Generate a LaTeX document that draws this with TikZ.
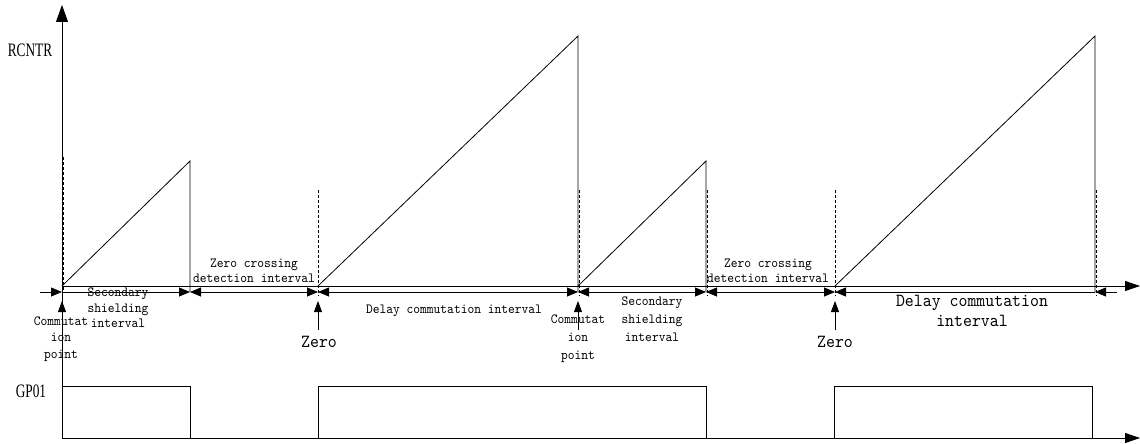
\documentclass[tikz,border=0pt]{standalone}
\usepackage{fontspec}
\usetikzlibrary{arrows.meta}
\newfontfamily\labserif[FakeStretch=0.7]{Liberation Serif}
\newfontfamily\labmono[FakeStretch=0.92]{lmmono10-regular.otf}
\begin{document}
\begin{tikzpicture}[x=1pt,y=-1pt,line width=0.8pt,
  axisup/.style={-{Triangle[length=17pt,width=12pt]}},
  axisright/.style={-{Triangle[length=15pt,width=10pt]}},
  dimboth/.style={{Triangle[length=11pt,width=9pt]}-{Triangle[length=11pt,width=9pt]}},
  dimend/.style={-{Triangle[length=11pt,width=9pt]}},
  dimstart/.style={{Triangle[length=11pt,width=9pt]}-},
  uparrow/.style={-{Triangle[length=11pt,width=8pt]}},
  guide/.style={dashed,line width=0.7pt,dash pattern=on 3pt off 2pt},
  axislabel/.style={font=\labserif\fontsize{19}{19}\selectfont,inner sep=0pt},
  small/.style={font=\labmono\fontsize{14}{15.5}\selectfont,align=center,inner sep=0pt},
  big/.style={font=\labmono\fontsize{18.5}{20}\selectfont,align=center,inner sep=0pt}]
\useasboundingbox (0,0) rectangle (1140,444);

% coordinates
\coordinate (O) at (62,438);
\coordinate (Ytop) at (62,5);
\coordinate (Xend) at (1140,438);
\coordinate (B0) at (62,286);
\coordinate (Bend) at (1140,286);
\coordinate (P1) at (190,161);
\coordinate (Q1) at (190,292);
\coordinate (Z1) at (318,286);
\coordinate (P2) at (578,36);
\coordinate (Q2) at (578,292);
\coordinate (Z2) at (578,286);
\coordinate (P3) at (706,161);
\coordinate (Q3) at (706,292);
\coordinate (Z3) at (835,286);
\coordinate (P4) at (1095,36);
\coordinate (Q4) at (1095,292);

% dimension-line points
\coordinate (D00) at (40,292);
\coordinate (D0) at (62,292);
\coordinate (D1) at (190,292);
\coordinate (D2) at (318,292);
\coordinate (D3) at (578,292);
\coordinate (D4) at (706,292);
\coordinate (D5) at (835,292);
\coordinate (D6) at (1095,292);
\coordinate (D66) at (1117,292);

% axes
\draw[axisup] (O) -- (Ytop);
\draw[axisright] (O) -- (Xend);
\draw[axisright] (B0) -- (Bend);

% ramps
\draw (B0) -- (P1) -- (Q1);
\draw (Z1) -- (P2) -- (Q2);
\draw (Z2) -- (P3) -- (Q3);
\draw (Z3) -- (P4) -- (Q4);

% dashed guides
\coordinate (G0a) at (63.5,157); \coordinate (G0b) at (63.5,292);
\coordinate (G1a) at (318,190);  \coordinate (G1b) at (318,296);
\coordinate (G2a) at (579,190);  \coordinate (G2b) at (579,296);
\coordinate (G3a) at (707,190);  \coordinate (G3b) at (707,296);
\coordinate (G4a) at (835,190);  \coordinate (G4b) at (835,296);
\coordinate (G5a) at (1096,190); \coordinate (G5b) at (1096,296);
\draw[guide] (G0a) -- (G0b);
\draw[guide] (G1a) -- (G1b);
\draw[guide] (G2a) -- (G2b);
\draw[guide] (G3a) -- (G3b);
\draw[guide] (G4a) -- (G4b);
\draw[guide] (G5a) -- (G5b);

% dimension arrows
\draw[dimend] (D00) -- (D0);
\draw[dimend] (D0) -- (D1);
\draw[dimboth] (D1) -- (D2);
\draw[dimboth] (D2) -- (D3);
\draw[dimboth] (D3) -- (D4);
\draw[dimboth] (D4) -- (D5);
\draw[dimstart] (D5) -- (D6);
\draw[dimend] (D66) -- (D6);

% up arrows
\coordinate (U0a) at (62,316); \coordinate (U0b) at (62,301);
\coordinate (U1a) at (318,330); \coordinate (U1b) at (318,301);
\coordinate (U2a) at (578,330); \coordinate (U2b) at (578,301);
\coordinate (U3a) at (835,330); \coordinate (U3b) at (835,301);
\draw[uparrow] (U0a) -- (U0b);
\draw[uparrow] (U1a) -- (U1b);
\draw[uparrow] (U2a) -- (U2b);
\draw[uparrow] (U3a) -- (U3b);

% square wave GP01
\coordinate (S1) at (62,386);
\coordinate (S2) at (190,386);
\coordinate (S3) at (190,438);
\coordinate (S4) at (318,438);
\coordinate (S5) at (318,386);
\coordinate (S6) at (706,386);
\coordinate (S7) at (706,438);
\coordinate (S8) at (834,438);
\coordinate (S9) at (834,386);
\coordinate (S10) at (1092,386);
\coordinate (S11) at (1092,438);
\draw (S1) -- (S2) -- (S3);
\draw (S4) -- (S5) -- (S6) -- (S7);
\draw (S8) -- (S9) -- (S10) -- (S11);

% labels
\node[axislabel] (rcntr) at (30,50) {RCNTR};
\node[axislabel] (gp) at (31,391) {GP01};

\node[small] (sec1) at (118,308) {Secondary\\shielding\\interval};
\node[small,font=\labmono\fontsize{14}{16.5}\selectfont] (com1) at (61,339) {Commutat\\ion\\point};
\node[small,font=\labmono\fontsize{14}{15}\selectfont] (zc1) at (254,270.5) {Zero crossing\\detection interval};
\node[big] (zero1) at (319,342) {Zero};
\node[small] (del1) at (454,311) {Delay commutation interval};
\node[small,font=\labmono\fontsize{14}{18}\selectfont] (com2) at (578,339) {Commutat\\ion\\point};
\node[small,font=\labmono\fontsize{14}{18}\selectfont] (sec2) at (652,319) {Secondary\\shielding\\interval};
\node[small,font=\labmono\fontsize{14}{15}\selectfont] (zc2) at (768,270.5) {Zero crossing\\detection interval};
\node[big] (zero2) at (835,342) {Zero};
\node[big] (del2) at (972,311) {Delay commutation\\interval};
\end{tikzpicture}
\end{document}
